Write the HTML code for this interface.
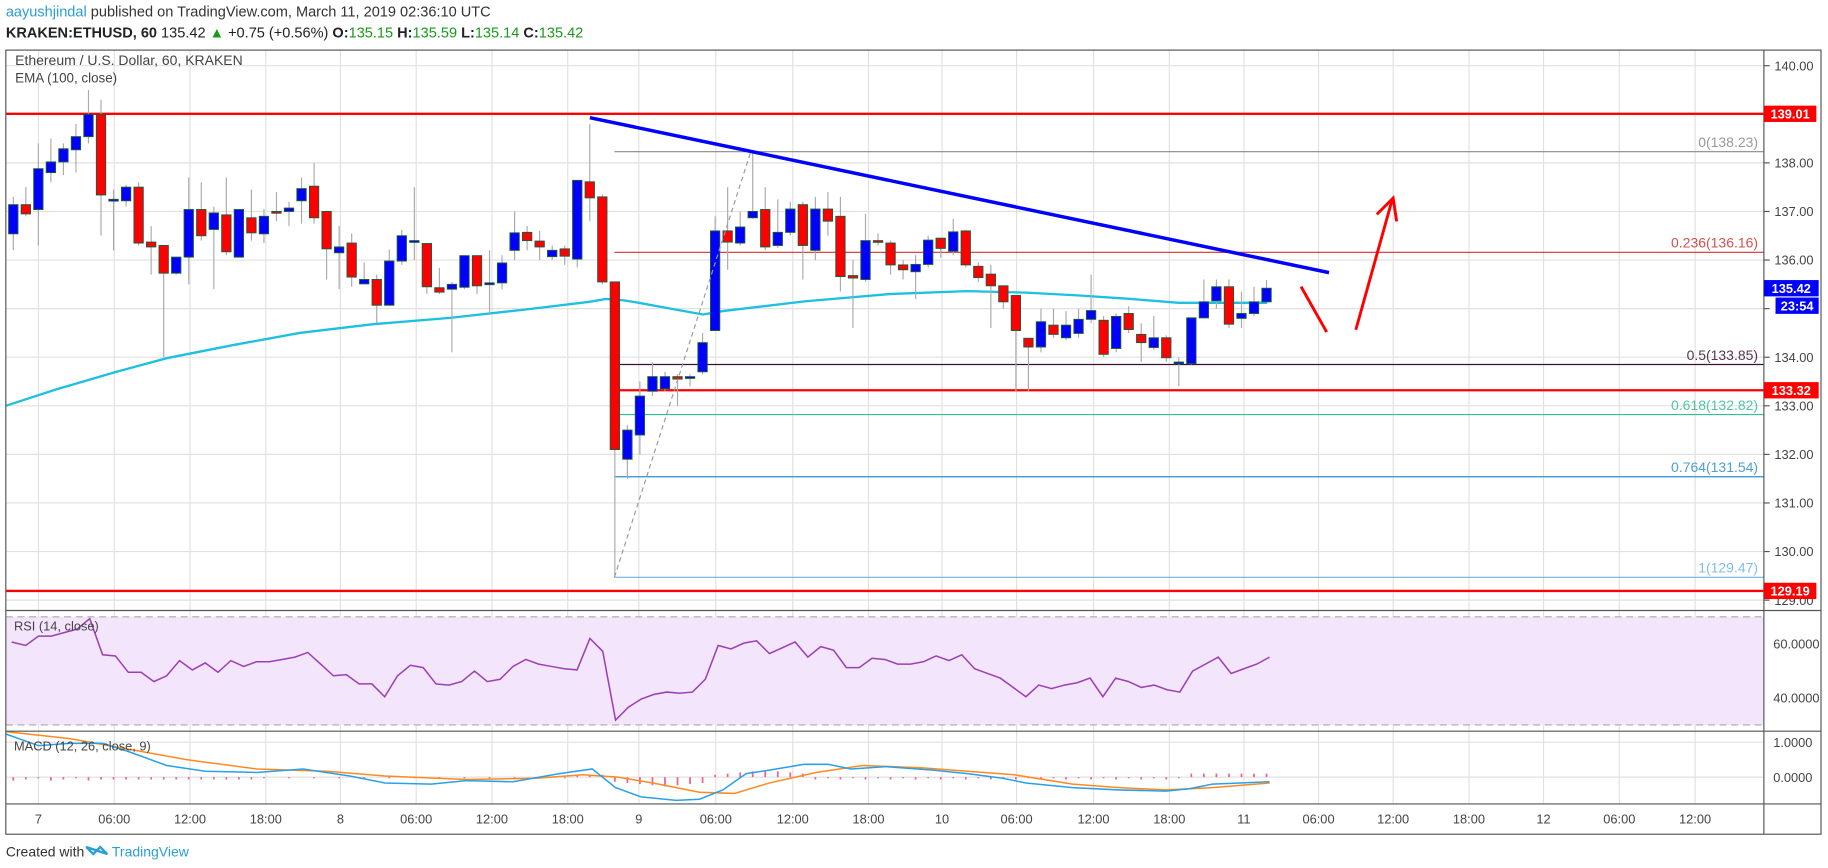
<!DOCTYPE html>
<html><head><meta charset="utf-8">
<style>
html,body{margin:0;padding:0;background:#fff;}
svg{display:block;font-family:"Liberation Sans",sans-serif;}
</style></head>
<body>
<svg id="c" width="1828" height="868" viewBox="0 0 1568 745" preserveAspectRatio="none" xmlns="http://www.w3.org/2000/svg">
<rect x="0" y="0" width="1568" height="745" fill="#fff"/>
<text x="5" y="14" font-size="12.5"><tspan fill="#2a9ed8">aayushjindal</tspan><tspan fill="#333"> published on TradingView.com, March 11, 2019 02:36:10 UTC</tspan></text>
<text x="5" y="32" font-size="12.5" fill="#222"><tspan font-weight="bold">KRAKEN:ETHUSD, 60</tspan><tspan> 135.42 </tspan><tspan fill="#1a9a1a">▲</tspan><tspan> +0.75 (+0.56%) </tspan><tspan font-weight="bold">O:</tspan><tspan fill="#1a9a1a">135.15 </tspan><tspan font-weight="bold">H:</tspan><tspan fill="#1a9a1a">135.59 </tspan><tspan font-weight="bold">L:</tspan><tspan fill="#1a9a1a">135.14 </tspan><tspan font-weight="bold">C:</tspan><tspan fill="#1a9a1a">135.42</tspan></text>
<g id="grid"></g>
<!-- RSI band -->
<rect x="5" y="529.4" width="1508" height="92.8" fill="#f3e5fc"/>
<line x1="5" y1="529.4" x2="1513" y2="529.4" stroke="#aaa" stroke-dasharray="6,4"/>
<line x1="5" y1="622.2" x2="1513" y2="622.2" stroke="#aaa" stroke-dasharray="6,4"/>
<g id="main"></g>
<!-- frame -->
<rect x="5" y="43" width="1557" height="673" fill="none" stroke="#555" stroke-width="1"/>
<line x1="1513" y1="43" x2="1513" y2="716" stroke="#555"/>
<line x1="5" y1="524" x2="1562" y2="524" stroke="#555"/>
<line x1="5" y1="627.6" x2="1562" y2="627.6" stroke="#555"/>
<line x1="5" y1="690" x2="1562" y2="690" stroke="#555"/>
<text x="13" y="56" font-size="12" fill="#444">Ethereum / U.S. Dollar, 60, KRAKEN</text>
<text x="13" y="71" font-size="11.5" fill="#444">EMA (100, close)</text>
<text x="12" y="541" font-size="11" fill="#444">RSI (14, close)</text>
<text x="12" y="644" font-size="11" fill="#444">MACD (12, 26, close, 9)</text>
<g id="axis" font-size="11" fill="#444"></g>
<text x="5" y="735" font-size="12" fill="#333">Created with</text>
<polygon points="74,727 80,733 86,727 92,733" fill="none" stroke="#2a9ed8" stroke-width="2"/>
<text x="96" y="735" font-size="12" fill="#2a9ed8">TradingView</text>
</svg>
<script>
var NS="http://www.w3.org/2000/svg";
function el(p,t,a,txt){var e=document.createElementNS(NS,t);for(var k in a)e.setAttribute(k,a[k]);if(txt!==undefined)e.textContent=txt;document.getElementById(p).appendChild(e);return e;}
function Y(p){return 56.4+(140-p)*41.7;}
// grid
var vx=[33,98,163,228,292,357,422,487,548,614,680,745,808,872,938,1003,1067,1131,1195,1260,1324,1389,1454];
var vl=["7","06:00","12:00","18:00","8","06:00","12:00","18:00","9","06:00","12:00","18:00","10","06:00","12:00","18:00","11","06:00","12:00","18:00","12","06:00","12:00"];
vx.forEach(function(x,i){el("grid","line",{x1:x,y1:43,x2:x,y2:690,stroke:"#e1e1e1"});el("axis","text",{x:x,y:707,"text-anchor":"middle"},vl[i]);});
for(var p=129;p<=140;p++){var y=Y(p);el("grid","line",{x1:5,y1:y,x2:1513,y2:y,stroke:"#e1e1e1"});el("axis","line",{x1:1513,y1:y,x2:1518,y2:y,stroke:"#555"});el("axis","text",{x:1522,y:y+4},p.toFixed(2));}
[[60,552.6],[40,599]].forEach(function(a){el("grid","line",{x1:5,y1:a[1],x2:1513,y2:a[1],stroke:"#e1e1e1"});el("axis","text",{x:1521,y:a[1]+4},a[0].toFixed(4));});
[[1,637],[0,667]].forEach(function(a){el("grid","line",{x1:5,y1:a[1],x2:1513,y2:a[1],stroke:"#e1e1e1"});el("axis","text",{x:1521,y:a[1]+4},a[0].toFixed(4));});
// fib
var fibs=[[138.23,"#888","0(138.23)"],[136.16,"#d03030","0.236(136.16)"],[133.85,"#3a1030","0.5(133.85)"],[132.82,"#30c090","0.618(132.82)"],[131.54,"#2a8fd0","0.764(131.54)"],[129.47,"#6ab4e0","1(129.47)"]];
fibs.forEach(function(f){var y=Y(f[0]);el("main","line",{x1:527,y1:y,x2:1513,y2:y,stroke:f[1]});el("main","text",{x:1508,y:y-4,"text-anchor":"end","font-size":"12",fill:f[1],opacity:0.85},f[2]);});
// red levels
el("main","line",{x1:5,y1:Y(139.01),x2:1513,y2:Y(139.01),stroke:"#f00","stroke-width":2});
el("main","line",{x1:530,y1:Y(133.32),x2:1513,y2:Y(133.32),stroke:"#f00","stroke-width":2});
el("main","line",{x1:5,y1:Y(129.19),x2:1513,y2:Y(129.19),stroke:"#f00","stroke-width":2});
// EMA
var ema=[[5,133.0],[48.6,133.34],[100,133.7],[143,133.98],[200,134.25],[257,134.5],[320,134.68],[386,134.81],[450,134.98],[505.7,135.14],[520,135.2],[535,135.17],[548,135.12],[575,135.0],[603,134.88],[620,134.95],[690,135.15],[763,135.3],[829,135.36],[880,135.33],[926,135.27],[970,135.2],[1011,135.12],[1087,135.12]];
el("main","polyline",{points:ema.map(function(a){return a[0]+","+Y(a[1]);}).join(" "),fill:"none",stroke:"#1ec0e0","stroke-width":2});
// candles
var d=[[136.54,137.14,137.3,136.2],[137.14,136.95,137.5,136.9],[137.04,137.88,138.4,136.3],[137.8,138.02,138.5,137.6],[138.02,138.29,138.4,137.75],[138.27,138.54,138.8,137.8],[138.54,139.0,139.5,138.4],[139.0,137.34,139.3,136.5],[137.25,137.25,137.45,136.2],[137.22,137.5,137.55,137.1],[137.5,136.35,137.6,136.3],[136.37,136.27,136.7,135.7],[136.3,135.73,136.3,134.0],[135.73,136.06,136.06,135.7],[136.06,137.04,137.7,135.5],[137.04,136.5,137.6,136.4],[136.63,136.97,137.1,135.4],[136.93,136.17,137.7,136.1],[136.06,137.04,137.04,136.06],[136.87,136.56,137.45,136.4],[136.54,136.9,137.05,136.35],[137.0,136.97,137.4,136.8],[137.0,137.07,137.2,136.7],[137.22,137.47,137.7,136.75],[137.52,136.87,138.0,136.75],[137.0,136.23,137.0,135.6],[136.15,136.27,136.7,135.4],[136.35,135.65,136.55,135.45],[135.51,135.6,135.95,135.5],[135.6,135.07,135.7,134.7],[135.07,135.98,136.22,135.07],[135.98,136.5,136.62,135.9],[136.4,136.4,137.5,136.0],[136.34,135.45,136.34,135.3],[135.43,135.34,135.84,135.3],[135.4,135.5,135.55,134.1],[135.44,136.09,136.1,135.4],[136.09,135.47,136.1,135.3],[135.53,135.53,136.2,134.9],[135.53,135.94,136.1,135.4],[136.2,136.56,137.0,136.0],[136.57,136.4,136.7,136.2],[136.39,136.27,136.6,136.0],[136.07,136.2,136.3,136.0],[136.23,136.08,136.3,135.9],[136.02,137.64,137.64,135.85],[137.61,137.28,138.8,136.8],[137.3,135.55,137.35,135.5],[135.55,132.1,135.55,129.47],[131.9,132.5,132.6,131.5],[132.4,133.2,133.5,132.0],[133.3,133.6,133.9,133.2],[133.35,133.6,133.7,133.3],[133.6,133.55,133.65,133.0],[133.6,133.6,133.65,133.4],[133.7,134.3,134.5,133.65],[134.55,136.6,136.9,134.55],[136.6,136.37,137.5,135.8],[136.35,136.68,137.0,136.3],[136.87,137.0,138.23,136.85],[137.04,136.27,137.5,136.2],[136.3,136.57,137.25,136.25],[136.57,137.05,137.2,136.5],[137.14,136.3,137.2,135.6],[136.2,137.05,137.3,136.0],[137.05,136.8,137.4,136.5],[136.9,135.66,137.3,135.35],[135.68,135.63,136.0,134.6],[135.6,136.4,136.95,135.55],[136.4,136.37,136.55,136.3],[136.35,135.9,136.4,135.7],[135.9,135.8,136.0,135.6],[135.76,135.91,136.1,135.2],[135.91,136.41,136.5,135.85],[136.45,136.24,136.45,136.05],[136.18,136.58,136.85,136.1],[136.6,135.9,136.62,135.85],[135.87,135.64,135.95,135.55],[135.71,135.47,135.9,134.6],[135.47,135.14,135.47,135.0],[135.27,134.55,135.27,133.3],[134.39,134.21,134.39,133.3],[134.21,134.73,135.0,134.1],[134.66,134.47,135.0,134.4],[134.4,134.66,134.95,134.35],[134.49,134.78,135.0,134.4],[134.78,134.96,135.7,134.7],[134.76,134.06,134.85,134.0],[134.18,134.84,134.9,134.1],[134.9,134.57,135.05,134.5],[134.47,134.3,134.7,133.9],[134.2,134.4,134.85,134.15],[134.4,133.99,134.45,133.9],[133.9,133.9,134.0,133.4],[133.87,134.81,134.81,133.85],[134.81,135.14,135.6,134.8],[135.16,135.45,135.6,135.0],[135.45,134.68,135.6,134.6],[134.8,134.9,135.35,134.6],[134.9,135.14,135.45,134.85],[135.14,135.42,135.59,135.14]];
d.forEach(function(c,i){var x=11.4+10.75*i;el("main","line",{x1:x,y1:Y(c[2]),x2:x,y2:Y(c[3]),stroke:"#aaa"});
var t=Y(Math.max(c[0],c[1])),b=Y(Math.min(c[0],c[1]));var h=Math.max(b-t,1.5);
el("main","rect",{x:x-4,y:t,width:8,height:h,fill:c[1]>=c[0]?"#0000ff":"#ff0000",stroke:"#1e5a3a","stroke-width":0.8});});
// fib diagonal
el("main","line",{x1:527,y1:Y(129.47),x2:644,y2:Y(138.23),stroke:"#999","stroke-dasharray":"4,3"});
// trendline
el("main","line",{x1:506,y1:101,x2:1140,y2:234,stroke:"#0000ff","stroke-width":3});
// arrows
el("main","line",{x1:1116,y1:246,x2:1138,y2:285,stroke:"#f00","stroke-width":2.5});
el("main","line",{x1:1163,y1:283,x2:1194,y2:172,stroke:"#f00","stroke-width":2.5});
el("main","polyline",{points:"1181,184 1195,170 1198,190",fill:"none",stroke:"#f00","stroke-width":2.5});
// RSI
var rsi=[[10,551],[22,554],[33,546],[44,546],[55,543],[66,540],[77,531],[88,562],[99,563],[110,577],[121,577],[132,585],[143,580],[154,567],[165,575],[176,569],[187,577],[198,567],[209,572],[220,568],[231,568],[242,566],[253,564],[264,560],[275,570],[286,580],[297,579],[308,587],[319,587],[330,598],[341,580],[352,571],[363,573],[374,587],[385,588],[396,585],[407,576],[418,585],[429,583],[440,572],[451,566],[462,570],[473,572],[484,574],[495,575],[506,548],[517,559],[528,618],[539,607],[550,600],[561,596],[572,594],[583,595],[594,594],[605,583],[616,554],[627,557],[638,552],[649,550],[660,561],[671,556],[682,551],[693,564],[704,555],[715,558],[726,573],[737,573],[748,565],[759,566],[770,570],[781,570],[792,568],[803,563],[814,567],[825,562],[836,574],[847,578],[858,582],[869,590],[880,598],[891,588],[902,591],[913,588],[924,586],[935,582],[946,598],[957,582],[968,585],[979,590],[990,588],[1001,592],[1012,594],[1023,576],[1034,570],[1045,564],[1056,578],[1067,574],[1078,570],[1089,564]];
el("main","polyline",{points:rsi.map(function(a){return a.join(",");}).join(" "),fill:"none",stroke:"#9c3fb5","stroke-width":1.3});
// MACD histogram
for(var i=0;i<101;i++){var x=11.4+10.75*i;var v;
 if(i<8)v=-3+ (i%3); else if(i<20)v=-2; else if(i<45)v=-1+(i%2); else if(i<48)v=2; else if(i<56)v=-(8-Math.abs(i-52)); else if(i<64)v=(6-Math.abs(i-60)); else if(i<94)v=-2+(i%2); else v=3;
 var y0=667,y1=667-v;el("main","line",{x1:x,y1:y0,x2:x,y2:y1,stroke:"#f06090","stroke-width":1.5});}
var macd=[[5,630],[33,640],[60,638],[88,638],[110,645],[143,657],[176,662],[220,663],[260,660],[300,666],[330,672],[370,673],[400,670],[440,671],[480,664],[508,660],[528,676],[550,684],[580,687],[600,686],[620,678],[640,664],[660,661],[690,656],[710,656],[730,660],[760,658],[800,661],[830,664],[860,668],[880,672],[920,676],[960,678],[1000,679],[1020,677],[1040,673],[1089,671]];
var sig=[[5,628],[60,634],[110,643],[160,652],[220,660],[280,662],[330,666],[400,669],[460,668],[500,665],[530,667],[560,672],[600,680],[630,681],[660,672],[700,663],[740,657],[790,659],[830,662],[870,665],[920,673],[960,676],[1000,678],[1040,676],[1089,672]];
el("main","polyline",{points:sig.map(function(a){return a.join(",");}).join(" "),fill:"none",stroke:"#ff8a20","stroke-width":1.3});
el("main","polyline",{points:macd.map(function(a){return a.join(",");}).join(" "),fill:"none",stroke:"#2aa0e8","stroke-width":1.3});
// axis labels boxes
function box(y,w,x0,col,txt){el("axis","rect",{x:x0,y:y-7,width:w,height:14,fill:col});el("axis","text",{x:x0+w/2,y:y+4,"text-anchor":"middle",fill:"#fff","font-weight":"bold"},txt);}
box(Y(139.01),45,1513,"#f00","139.01");
box(Y(135.42),47,1513,"#0000ff","135.42");
box(Y(135.42)+15,37,1523,"#0000ff","23:54");
box(Y(133.32),47,1513,"#f00","133.32");
box(Y(129.19),45,1513,"#f00","129.19");
</script>
</body></html>
